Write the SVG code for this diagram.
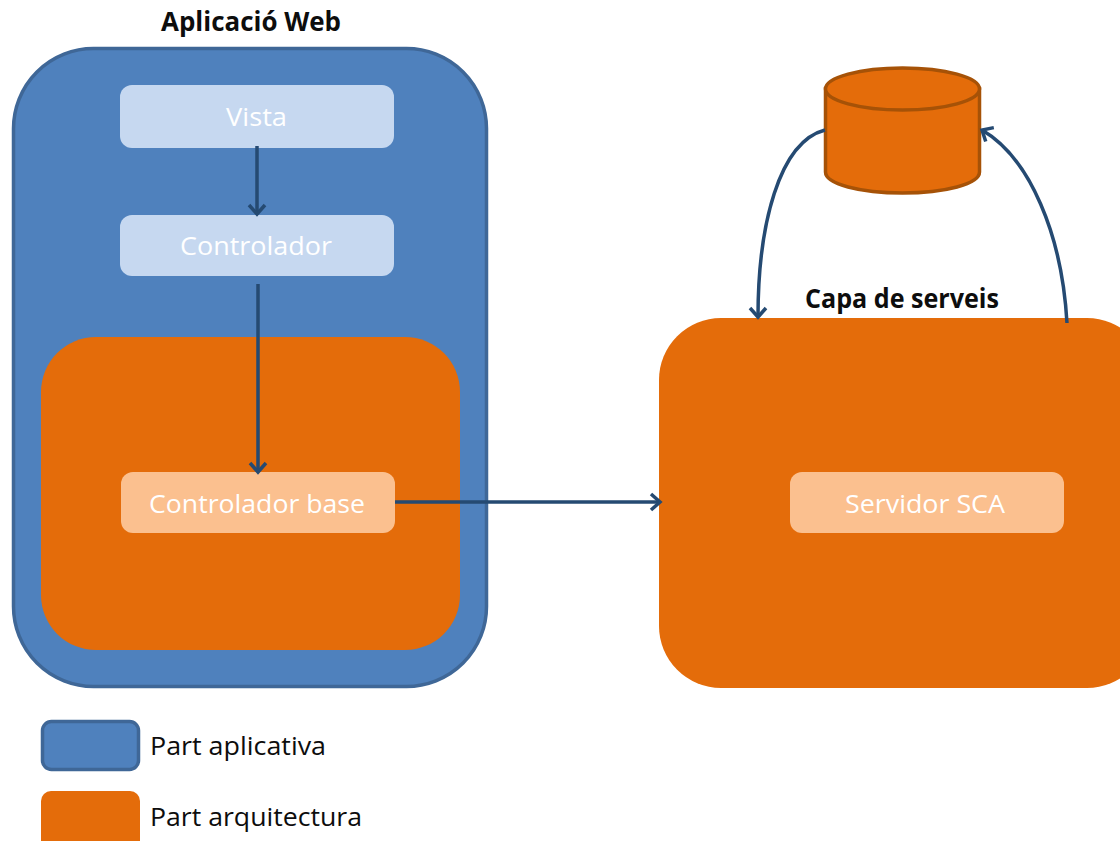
<svg xmlns="http://www.w3.org/2000/svg" width="1120" height="841" viewBox="0 0 1120 841">
<style>
text{font-family:"Open Sans","Noto Sans","Liberation Sans",sans-serif;font-size:26px;fill:#0d0d0d}
.b{font-weight:700}
.w{fill:#fff;text-anchor:start}
.lb{fill:#c6d8f0}
.lo{fill:#fbc08f}
.or{fill:#e46c0a}
.bl{fill:#4f81bd;stroke:#3f6797;stroke-width:3.500}
.c{fill:none;stroke:#254a72;stroke-width:3.500;marker-end:url(#a)}
</style>
<defs>
<marker id="a" markerUnits="userSpaceOnUse" markerWidth="20" markerHeight="22" refX="16" refY="10" orient="auto"><path d="M7 2L16 10L7 18" fill="none" stroke="#254a72" stroke-width="3.500"/></marker>
</defs>
<rect width="1120" height="841" fill="#fff"/>
<g id="aplicacio-web">
<rect class="bl" x="13.500" y="48.500" width="473" height="638" rx="80"/>
<text class="b" x="161" y="31" textLength="180" lengthAdjust="spacingAndGlyphs">Aplicació Web</text>
</g>
<g id="arquitectura-web"><rect class="or" x="41" y="337" width="419" height="313" rx="55"/></g>
<g id="vista"><rect class="lb" x="120" y="85" width="274" height="63" rx="12"/><text class="w" x="226" y="126" textLength="61" lengthAdjust="spacingAndGlyphs">Vista</text></g>
<g id="controlador"><rect class="lb" x="120" y="215" width="274" height="61" rx="12"/><text class="w" x="180" y="255" textLength="152" lengthAdjust="spacingAndGlyphs">Controlador</text></g>
<g id="controlador-base"><rect class="lo" x="121" y="472" width="274" height="61" rx="12"/><text class="w" x="149" y="513" textLength="216" lengthAdjust="spacingAndGlyphs">Controlador base</text></g>
<g id="capa-serveis">
<rect class="or" x="659" y="318" width="490" height="370" rx="62"/>
<text class="b" x="805" y="308" textLength="194" lengthAdjust="spacingAndGlyphs">Capa de serveis</text>
</g>
<g id="servidor-sca"><rect class="lo" x="790" y="472" width="274" height="61" rx="12"/><text class="w" x="845" y="513" textLength="160" lengthAdjust="spacingAndGlyphs">Servidor SCA</text></g>
<g id="base-dades">
<path d="M825.500 89V172C825.500 184 860 193 902.500 193S979.500 184 979.500 172V89Z" fill="#e46c0a" stroke="#a65207" stroke-width="3.500"/>
<ellipse cx="902.500" cy="89" rx="77" ry="21" fill="#e46c0a" stroke="#a65207" stroke-width="3.500"/>
</g>
<g id="connectors">
<path class="c" d="M257 146V214"/>
<path class="c" d="M258 284V472"/>
<path class="c" d="M395 502H660"/>
<path class="c" d="M825 130C779 142 758 225 758 317"/>
<path class="c" d="M1067 323C1062 235 1030 158 982 130"/>
</g>
<g id="legend-aplicativa"><rect class="bl" x="42.500" y="721.500" width="96" height="48" rx="9"/><text x="150" y="755" textLength="176" lengthAdjust="spacingAndGlyphs">Part aplicativa</text></g>
<g id="legend-arquitectura"><rect class="or" x="41" y="791" width="99" height="60" rx="10"/><text x="150" y="826" textLength="212" lengthAdjust="spacingAndGlyphs">Part arquitectura</text></g>
</svg>
